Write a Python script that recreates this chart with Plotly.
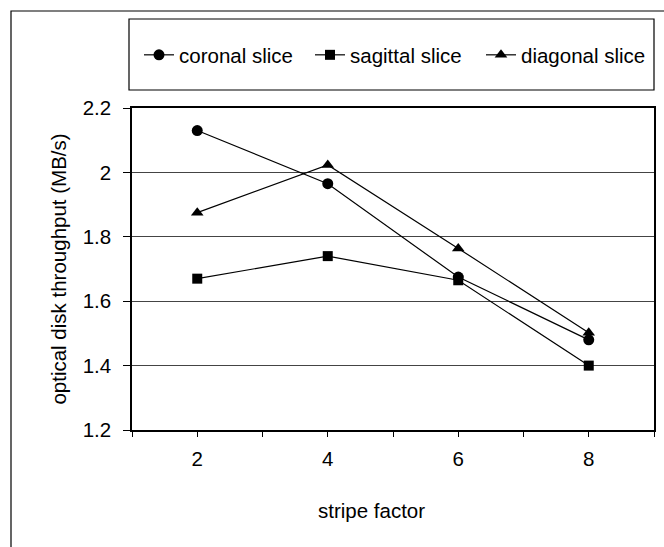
import plotly.graph_objects as go

# Throughput measurements per stripe factor
stripe_factor = [2, 4, 6, 8]
coronal = [2.13, 1.965, 1.675, 1.48]
sagittal = [1.67, 1.74, 1.665, 1.40]
diagonal = [1.875, 2.023, 1.764, 1.502]

series_names = ["coronal slice", "sagittal slice", "diagonal slice"]

y_tick_vals = [1.2, 1.4, 1.6, 1.8, 2.0, 2.2]
y_tick_text = ["1.2", "1.4", "1.6", "1.8", "2", "2.2"]
x_tick_vals = [1, 2, 3, 4, 5, 6, 7, 8, 9]
x_tick_text = ["", "2", "", "4", "", "6", "", "8", ""]

FONT = "Liberation Sans, Arial, sans-serif"
FS = 20.5
W, H = 664, 547
ML, MR, MT, MB = 132, 10, 108, 117
PW, PH = W - ML - MR, H - MT - MB


def px_x(p):
    return (p - ML) / PW


def px_y(p):
    return (H - MB - p) / PH


fig = go.Figure()
for name, vals, sym, size in [
    (series_names[0], coronal, "circle", 11),
    (series_names[1], sagittal, "square", 10),
    (series_names[2], diagonal, "triangle-up", 11),
]:
    fig.add_trace(go.Scatter(
        x=stripe_factor, y=vals, name=name, mode="lines+markers",
        line=dict(color="black", width=1.2),
        marker=dict(symbol=sym, size=size, color="black"),
    ))

fig.update_layout(
    width=W, height=H,
    margin=dict(l=ML, r=MR, t=MT, b=MB, autoexpand=False),
    paper_bgcolor="white", plot_bgcolor="white",
    font=dict(family=FONT, size=FS, color="black"),
    showlegend=True,
    legend=dict(
        orientation="h", x=px_x(139), xanchor="left",
        y=px_y(55), yanchor="middle",
        entrywidth=126, font=dict(size=FS, family=FONT),
        bgcolor="rgba(0,0,0,0)", borderwidth=0,
    ),
    xaxis=dict(
        range=[1, 9], tickmode="array", tickvals=x_tick_vals, ticktext=x_tick_text,
        showgrid=False, zeroline=False, showline=True, linecolor="black", linewidth=1.5,
        mirror=True, ticks="outside", ticklen=5, tickcolor="black", tickwidth=1,
        ticklabelstandoff=5,
    ),
    yaxis=dict(
        range=[1.2, 2.2], tickmode="array", tickvals=y_tick_vals, ticktext=y_tick_text,
        showgrid=True, gridcolor="#444444", gridwidth=1, zeroline=False,
        showline=True, linecolor="black", linewidth=1.5, mirror=True,
        ticks="outside", ticklen=7, tickcolor="black", tickwidth=1,
        ticklabelstandoff=8,
        title=dict(text="optical disk throughput (MB/s)", standoff=10,
                   font=dict(size=FS, family=FONT)),
    ),
    annotations=[dict(
        text="stripe factor", xref="paper", yref="paper",
        x=px_x(371), y=px_y(510), xanchor="center", yanchor="middle",
        showarrow=False, font=dict(size=FS, family=FONT),
    )],
    shapes=[
        # outer chart frame
        dict(type="rect", xref="paper", yref="paper",
             x0=px_x(11), x1=px_x(680), y0=px_y(560), y1=px_y(11),
             line=dict(color="black", width=1.2), layer="below"),
        # legend frame
        dict(type="rect", xref="paper", yref="paper",
             x0=px_x(129), x1=px_x(654), y0=px_y(90), y1=px_y(19),
             line=dict(color="black", width=1.2), layer="below"),
    ],
)

fig.write_html("out.html")
